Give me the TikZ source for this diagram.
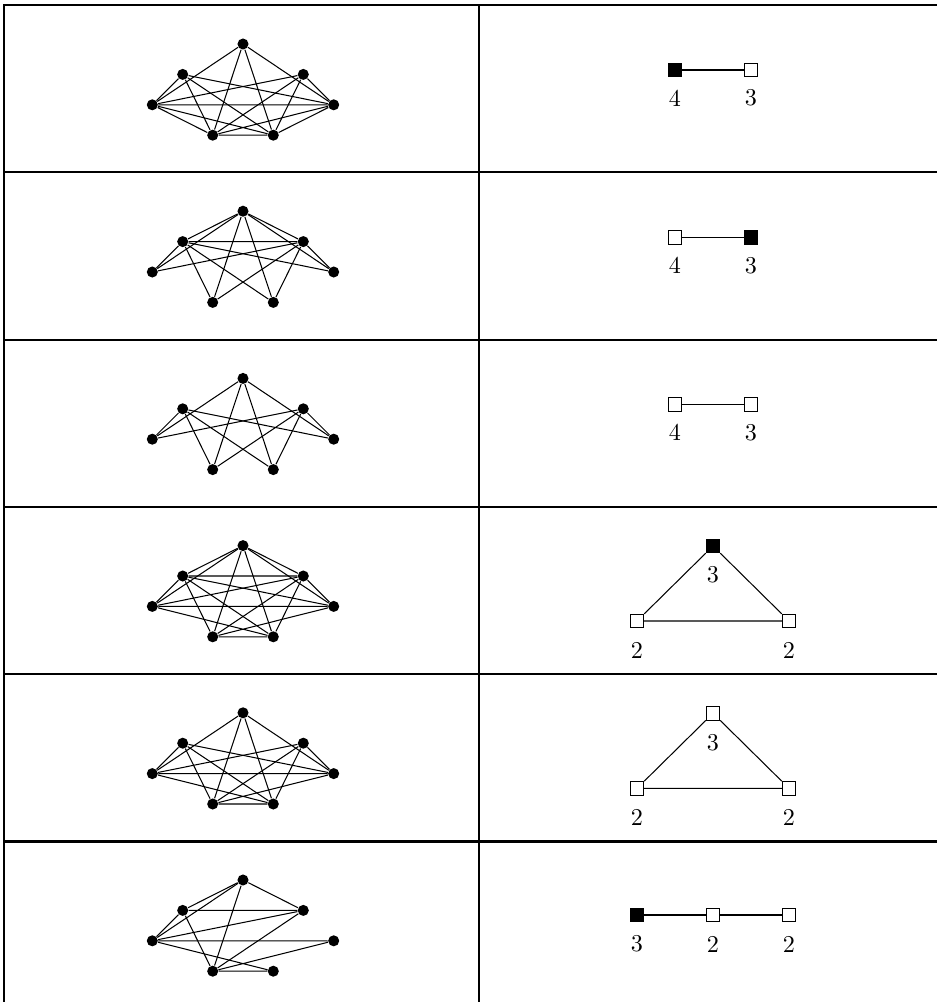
\documentclass[tikz,border=0pt]{standalone}
\begin{document}
\begin{tikzpicture}[x=0.435pt,y=-0.435pt,
  vtx/.style={circle,fill=black,inner sep=0pt,minimum size=4.8pt},
  sq/.style={draw,fill=white,inner sep=0pt,minimum size=5.9pt,line width=0.4pt},
  bsq/.style={sq,fill=black},
  lab/.style={inner sep=0pt,font=\fontsize{10.5}{12}\selectfont},
  edge/.style={line width=0.45pt},
  rulestyle/.style={line width=0.9pt}]
\useasboundingbox (0,0) rectangle (937,1002);
% table
\coordinate (c00) at (4,5);
\coordinate (c01) at (479,5);
\coordinate (c02) at (940,5);
\coordinate (c50) at (4,1006);
\coordinate (c51) at (479,1006);
\draw[rulestyle] (c02) -- (c00) -- (c50);
\draw[rulestyle] (c01) -- (c51);
\foreach \k in {1,...,5} {
  \coordinate (hl\k) at (4,5+\k*167.3);
  \coordinate (hr\k) at (940,5+\k*167.3);
  \draw[rulestyle] (hl\k) -- (hr\k);
}
% vertices of the graphs
\foreach \r in {1,...,6} {
  \pgfmathsetmacro\oy{(\r-1)*167.2}
  \node[vtx] (T\r) at (243,44+\oy) {};
  \node[vtx] (a\r) at (182.7,74.4+\oy) {};
  \node[vtx] (b\r) at (303.3,74.4+\oy) {};
  \node[vtx] (L\r) at (152.3,104.8+\oy) {};
  \node[vtx] (R\r) at (333.7,104.8+\oy) {};
  \node[vtx] (c\r) at (212.7,135.2+\oy) {};
  \node[vtx] (d\r) at (273.3,135.2+\oy) {};
}
% row 1: K7 minus triangle {T,a,b}
\foreach \u in {T,a,b} \foreach \v in {L,R,c,d} \draw[edge] (\u1) -- (\v1);
\draw[edge] (L1) -- (R1) (L1) -- (c1) (L1) -- (d1) (R1) -- (c1) (R1) -- (d1) (c1) -- (d1);
% row 2
\foreach \u in {T,a,b} \foreach \v in {L,R,c,d} \draw[edge] (\u2) -- (\v2);
\draw[edge] (T2) -- (a2) (T2) -- (b2) (a2) -- (b2);
% row 3
\foreach \u in {T,a,b} \foreach \v in {L,R,c,d} \draw[edge] (\u3) -- (\v3);
% row 4
\foreach \u in {T,a,b} \foreach \v in {L,R,c,d} \draw[edge] (\u4) -- (\v4);
\draw[edge] (T4) -- (a4) (T4) -- (b4) (a4) -- (b4);
\draw[edge] (L4) -- (R4) (L4) -- (d4) (R4) -- (c4) (c4) -- (d4);
% row 5
\foreach \u in {T,a,b} \foreach \v in {L,R,c,d} \draw[edge] (\u5) -- (\v5);
\draw[edge] (L5) -- (R5) (L5) -- (d5) (R5) -- (c5) (c5) -- (d5);
% row 6
\foreach \u in {T,a,b} \foreach \v in {L,c} \draw[edge] (\u6) -- (\v6);
\draw[edge] (T6) -- (a6) (T6) -- (b6) (a6) -- (b6);
\draw[edge] (L6) -- (R6) (L6) -- (d6) (R6) -- (c6) (c6) -- (d6);
% right column
% row 1
\node[bsq] (p1) at (675,70) {};
\node[sq] (q1) at (751,70) {};
\draw[edge] (p1) -- (q1);
\node[lab] (lp1) at (675,98) {4};
\node[lab] (lq1) at (751,98) {3};
% row 2
\node[sq] (p2) at (675,237.3) {};
\node[bsq] (q2) at (751,237.3) {};
\draw[edge] (p2) -- (q2);
\node[lab] (lp2) at (675,265.3) {4};
\node[lab] (lq2) at (751,265.3) {3};
% row 3
\node[sq] (p3) at (675,404.6) {};
\node[sq] (q3) at (751,404.6) {};
\draw[edge] (p3) -- (q3);
\node[lab] (lp3) at (675,432.6) {4};
\node[lab] (lq3) at (751,432.6) {3};
% row 4
\node[bsq] (t4) at (713,546) {};
\node[sq] (u4) at (637,621) {};
\node[sq] (w4) at (789,621) {};
\draw[edge] (t4) -- (u4) -- (w4) -- (t4);
\node[lab] (lt4) at (713,575) {3};
\node[lab] (lu4) at (637,650) {2};
\node[lab] (lw4) at (789,650) {2};
% row 5
\node[sq] (t5) at (713,713.3) {};
\node[sq] (u5) at (637,788.3) {};
\node[sq] (w5) at (789,788.3) {};
\draw[edge] (t5) -- (u5) -- (w5) -- (t5);
\node[lab] (lt5) at (713,742.3) {3};
\node[lab] (lu5) at (637,817.3) {2};
\node[lab] (lw5) at (789,817.3) {2};
% row 6
\node[bsq] (x6) at (637,915) {};
\node[sq] (y6) at (713,915) {};
\node[sq] (z6) at (789,915) {};
\draw[edge] (x6) -- (y6) -- (z6);
\node[lab] (lx6) at (637,944) {3};
\node[lab] (ly6) at (713,944) {2};
\node[lab] (lz6) at (789,944) {2};
\end{tikzpicture}
\end{document}
